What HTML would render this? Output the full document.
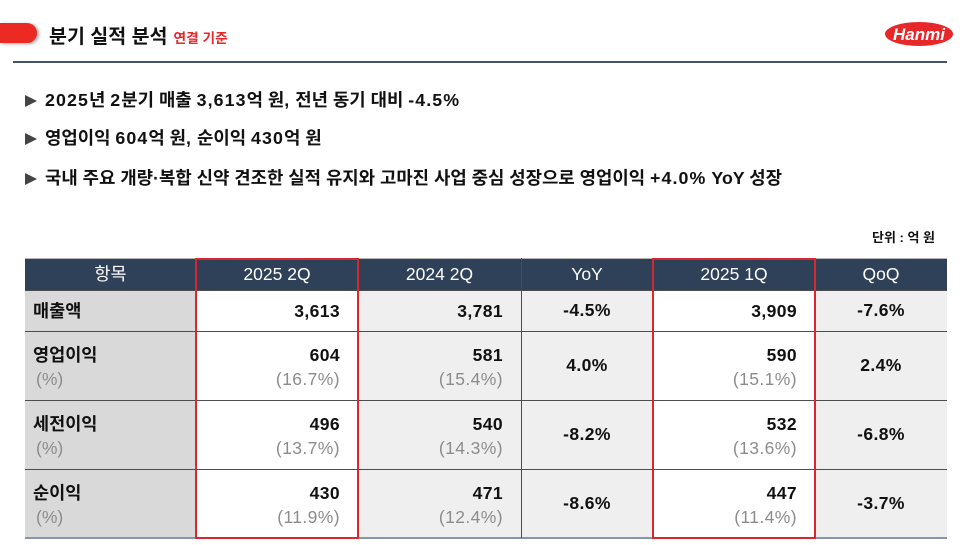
<!DOCTYPE html>
<html><head><meta charset="utf-8"><style>
*{margin:0;padding:0;box-sizing:border-box}
body{width:960px;height:545px;background:#fff;position:relative;overflow:hidden;font-family:"Liberation Sans","Noto Sans CJK KR",sans-serif;color:#111}
.a{position:absolute}
.bar{left:0;top:23px;width:37px;height:20px;background:#ec2a24;border-radius:0 10px 10px 0;box-shadow:2px 1px 3px rgba(0,0,0,.35)}
.title{left:49px;top:23px;font-size:19.5px;font-weight:700;line-height:28px;color:#111;white-space:nowrap}
.title span{font-size:13.7px;color:#e8272a;margin-left:6px}
.rule{left:13px;top:61px;width:934px;height:2px;background:#44536a}
.bul{left:25px;font-size:17.8px;font-weight:700;line-height:24px;white-space:nowrap;color:#111}
.bul i{font-style:normal;letter-spacing:1.1px}
.tri{display:inline-block;width:0;height:0;border-top:6px solid transparent;border-bottom:6px solid transparent;border-left:12px solid #444;margin-right:8px;vertical-align:-1px}
.unit{right:25px;top:229px;font-size:13px;font-weight:700;line-height:18px;color:#111}
.cell{position:absolute}
.hd{top:258px;height:32px;background:#2f4059;color:#fff;font-size:17.5px;line-height:32px;text-align:center}
.val{font-size:17.5px;font-weight:700;color:#111;line-height:24px;text-align:right;padding-right:18px;letter-spacing:.4px}
.val .p{font-weight:400;color:#8c8c8c}
.cen{font-size:17.5px;font-weight:700;color:#111;text-align:center;letter-spacing:.4px}
.lab{font-size:17.5px;font-weight:700;color:#111;line-height:24px;padding-left:8px}
.lab .p{font-weight:400;color:#8c8c8c;padding-left:3px}
.hl{position:absolute;left:25px;width:922px;height:1px;background:#4d4d4d}
</style></head><body>
<div class="a bar"></div>
<div class="a title">분기 실적 분석<span>연결 기준</span></div>
<svg class="a" style="left:884px;top:21px" width="72" height="27"><ellipse cx="35" cy="13" rx="34" ry="12" fill="#e8272a"/><text x="35" y="19" text-anchor="middle" font-family="Liberation Sans" font-weight="700" font-style="italic" font-size="17" fill="#fff">Hanmi</text></svg>
<div class="a rule"></div>

<div class="a bul" style="top:88px"><span class="tri"></span><i>2025</i>년 <i>2</i>분기 매출 <i>3,613</i>억 원<i>,</i> 전년 동기 대비 <i>-4.5%</i></div>
<div class="a bul" style="top:126px"><span class="tri"></span>영업이익 <i>604</i>억 원<i>,</i> 순이익 <i>430</i>억 원</div>
<div class="a bul" style="top:166px"><span class="tri"></span>국내 주요 개량·복합 신약 견조한 실적 유지와 고마진 사업 중심 성장으로 영업이익 <i>+4.0%</i> YoY 성장</div>

<div class="a unit">단위 : 억 원</div>

<!-- column backgrounds -->
<div class="cell" style="left:25px;top:290px;width:171px;height:248px;background:#d9d9d9"></div>
<div class="cell" style="left:196px;top:290px;width:162px;height:248px;background:#fff"></div>
<div class="cell" style="left:358px;top:290px;width:163px;height:248px;background:#efefef"></div>
<div class="cell" style="left:521px;top:290px;width:132px;height:248px;background:#efefef"></div>
<div class="cell" style="left:653px;top:290px;width:162px;height:248px;background:#fff"></div>
<div class="cell" style="left:815px;top:290px;width:132px;height:248px;background:#efefef"></div>

<!-- header -->
<div class="cell hd" style="left:25px;width:171px">항목</div>
<div class="cell hd" style="left:196px;width:162px">2025 2Q</div>
<div class="cell hd" style="left:358px;width:163px">2024 2Q</div>
<div class="cell hd" style="left:521px;width:132px">YoY</div>
<div class="cell hd" style="left:653px;width:162px">2025 1Q</div>
<div class="cell hd" style="left:815px;width:132px">QoQ</div>
<div class="hl" style="top:258px;background:#b5b5b5"></div>

<!-- grid lines -->
<div class="hl" style="top:290px"></div>
<div class="hl" style="top:331px"></div>
<div class="hl" style="top:400px"></div>
<div class="hl" style="top:469px"></div>
<div class="a" style="left:25px;top:537px;width:922px;height:2px;background:#8796ab"></div>
<div class="a" style="left:521px;top:258px;width:1px;height:280px;background:#4d4d4d"></div>
<div class="a" style="left:815px;top:258px;width:1px;height:32px;background:#222"></div>

<!-- row 1 -->
<div class="cell lab" style="left:25px;top:299px;width:171px">매출액</div>
<div class="cell val" style="left:196px;top:299px;width:162px">3,613</div>
<div class="cell val" style="left:358px;top:299px;width:163px">3,781</div>
<div class="cell cen" style="left:521px;top:290px;width:132px;line-height:41px">-4.5%</div>
<div class="cell val" style="left:653px;top:299px;width:162px">3,909</div>
<div class="cell cen" style="left:815px;top:290px;width:132px;line-height:41px">-7.6%</div>

<!-- row 2 -->
<div class="cell lab" style="left:25px;top:343px;width:171px">영업이익<br><span class="p">(%)</span></div>
<div class="cell val" style="left:196px;top:343px;width:162px">604<br><span class="p">(16.7%)</span></div>
<div class="cell val" style="left:358px;top:343px;width:163px">581<br><span class="p">(15.4%)</span></div>
<div class="cell cen" style="left:521px;top:331px;width:132px;line-height:69px">4.0%</div>
<div class="cell val" style="left:653px;top:343px;width:162px">590<br><span class="p">(15.1%)</span></div>
<div class="cell cen" style="left:815px;top:331px;width:132px;line-height:69px">2.4%</div>

<!-- row 3 -->
<div class="cell lab" style="left:25px;top:412px;width:171px">세전이익<br><span class="p">(%)</span></div>
<div class="cell val" style="left:196px;top:412px;width:162px">496<br><span class="p">(13.7%)</span></div>
<div class="cell val" style="left:358px;top:412px;width:163px">540<br><span class="p">(14.3%)</span></div>
<div class="cell cen" style="left:521px;top:400px;width:132px;line-height:69px">-8.2%</div>
<div class="cell val" style="left:653px;top:412px;width:162px">532<br><span class="p">(13.6%)</span></div>
<div class="cell cen" style="left:815px;top:400px;width:132px;line-height:69px">-6.8%</div>

<!-- row 4 -->
<div class="cell lab" style="left:25px;top:481px;width:171px">순이익<br><span class="p">(%)</span></div>
<div class="cell val" style="left:196px;top:481px;width:162px">430<br><span class="p">(11.9%)</span></div>
<div class="cell val" style="left:358px;top:481px;width:163px">471<br><span class="p">(12.4%)</span></div>
<div class="cell cen" style="left:521px;top:469px;width:132px;line-height:69px">-8.6%</div>
<div class="cell val" style="left:653px;top:481px;width:162px">447<br><span class="p">(11.4%)</span></div>
<div class="cell cen" style="left:815px;top:469px;width:132px;line-height:69px">-3.7%</div>

<!-- red boxes -->
<div class="a" style="left:195px;top:258px;width:164px;height:281px;border:2px solid #d9272e"></div>
<div class="a" style="left:652px;top:258px;width:164px;height:281px;border:2px solid #d9272e"></div>
</body></html>
